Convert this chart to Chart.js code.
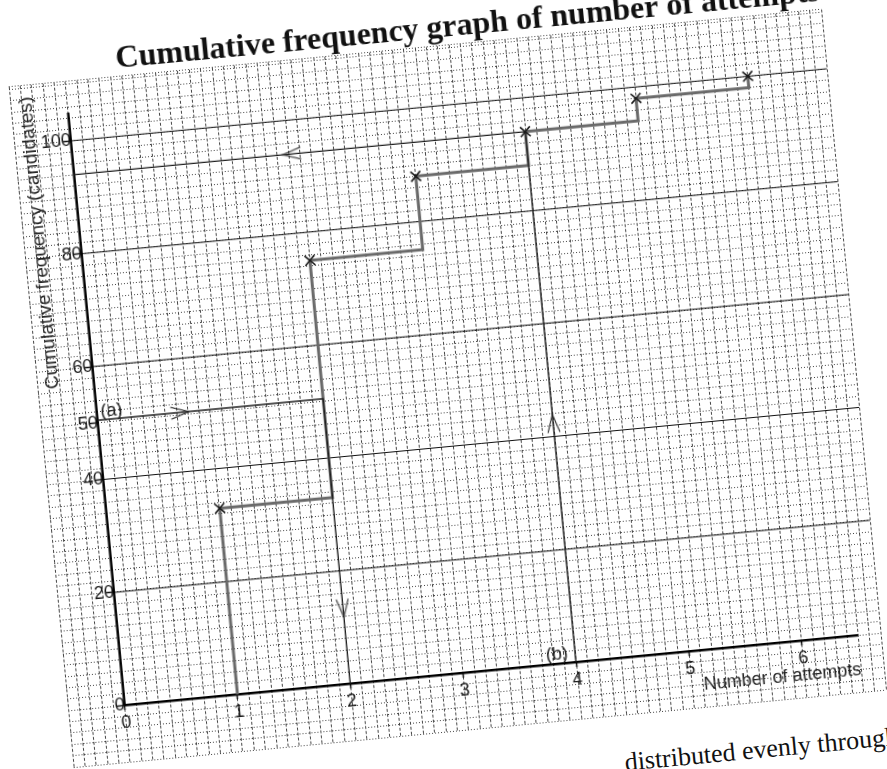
<!DOCTYPE html>
<html>
<head>
<meta charset="utf-8">
<title>Cumulative frequency graph of number of attempts</title>
<script src="https://cdn.jsdelivr.net/npm/chart.js"></script>
<style>
  html, body { margin: 0; padding: 0; background: #fff; }
  body { width: 887px; height: 769px; overflow: hidden; position: relative; }
  /* the scan is tilted, so the whole sheet is turned about the graph origin */
  #sheet { position: absolute; left: 58.33px; top: 30.7px; width: 836px; height: 741px;
           transform-origin: 66.67px 674.3px; transform: rotate(-5.45deg); }
  #chartOne { display: block; }
  #bookText { position: absolute; left: 559px; top: 766px; font: 26px 'Liberation Serif', serif;
              line-height: 1; white-space: nowrap; color: #111; }
</style>
</head>
<body>
<div id="sheet">
  <canvas id="chartOne" width="836" height="741"></canvas>
  <div id="bookText">distributed evenly throughout</div>
</div>
<script>
let chartOne = document.getElementById('chartOne').getContext('2d');

// values
let attempts = [1, 2, 3, 4, 5, 6];
let cumFreq = [33, 75, 88, 94, 98, 100];

let xTicks = [0, 1, 2, 3, 4, 5, 6];
let yTicks = [0, 20, 40, 50, 60, 80, 100];
let yMajorLines = [20, 40, 60, 80, 100];

// reading lines drawn for parts (a) and (b)
let readAX = [0, 2, 2];
let readAY = [50.5, 50.5, 0];
let readBX = [4, 4, 0];
let readBY = [0, 94, 94];

// arrow heads on the reading lines (turn in degrees, 0 = pointing right)
let arrowX = [0.73, 2, 4, 1.93];
let arrowY = [50.5, 13.4, 42.3, 94];
let arrowTurn = [0, 90, -90, 180];

let titleText = 'Cumulative frequency graph of number of attempts';
let xTitle = 'Number of attempts';
let yTitle = 'Cumulative frequency (candidates)';

// extent of the graph paper and of the drawn axes
let xMin = -0.5, xMax = 6.7, yMin = -10, yMax = 110.5;
let xAxisEnd = 6.5, yAxisEnd = 105;

function pts(xs, ys) {
    return xs.map((x, i) => ({ x: x, y: ys[i] }));
}

function gridTicks(lo, hi, step) {
    let ticks = [];
    for (let i = Math.ceil(lo / step - 1e-9); i * step <= hi + 1e-9; i++) {
        ticks.push({ value: i * step });
    }
    if (ticks[0].value > lo + 1e-9) ticks.unshift({ value: lo });
    if (ticks[ticks.length - 1].value < hi - 1e-9) ticks.push({ value: hi });
    return ticks;
}

// axes sit inside the paper, so their labels must not shrink the plot area
function noMargins(s) {
    s.paddingLeft = 0;
    s.paddingRight = 0;
    s.paddingTop = 0;
    s.paddingBottom = 0;
}

// open chevron used for the arrow heads
function chevron() {
    let c = document.createElement('canvas');
    c.width = 20;
    c.height = 14;
    let g = c.getContext('2d');
    g.strokeStyle = '#222';
    g.lineWidth = 1.3;
    g.beginPath();
    g.moveTo(1, 1);
    g.lineTo(19, 7);
    g.lineTo(1, 13);
    g.stroke();
    return c;
}

// axis titles and part labels sit on the paper, so draw them here
const sheetText = {
    id: 'sheetText',
    afterDatasetsDraw(chart) {
        const { ctx, scales: { x, y } } = chart;
        const x0 = x.getPixelForValue(0);
        const y0 = y.getPixelForValue(0);
        ctx.save();
        ctx.fillStyle = '#222';
        ctx.textBaseline = 'middle';

        ctx.font = '19px "Liberation Sans"';
        ctx.textAlign = 'center';
        ctx.save();
        ctx.translate(x0 - 41, y.getPixelForValue(82.6));
        ctx.rotate(-Math.PI / 2);
        ctx.fillText(yTitle, 0, 0);
        ctx.restore();

        ctx.font = '18px "Liberation Sans"';
        ctx.textAlign = 'right';
        ctx.fillText(xTitle, x.getPixelForValue(xAxisEnd), y0 + 35);

        ctx.textAlign = 'center';
        ctx.fillText('(a)', x.getPixelForValue(0.13), y.getPixelForValue(51.9));
        ctx.fillText('(b)', x.getPixelForValue(3.84), y.getPixelForValue(1.7));
        ctx.restore();
    }
};

let lineStyle = { pointRadius: 0, fill: false, tension: 0 };

let majorSets = yMajorLines.map(v => Object.assign({
    data: pts([0, xMax], [v, v]),
    borderColor: '#111',
    borderWidth: 1,
    order: 6
}, lineStyle));

let studentsChart1 = new Chart(chartOne, {
    type: 'line',
    data: {
        datasets: [
            {
                data: pts(attempts, cumFreq),
                showLine: false,
                pointStyle: 'crossRot',
                pointRadius: 7,
                borderColor: '#1a1a1a',
                borderWidth: 1.6,
                order: 0
            },
            {
                data: pts(arrowX, arrowY),
                showLine: false,
                pointStyle: chevron(),
                rotation: ctx => arrowTurn[ctx.dataIndex],
                order: 1
            },
            Object.assign({ data: pts(readAX, readAY), borderColor: '#1e1e1e', borderWidth: 1.4, order: 2 }, lineStyle),
            Object.assign({ data: pts(readBX, readBY), borderColor: '#1e1e1e', borderWidth: 1.4, order: 2 }, lineStyle),
            Object.assign({
                data: [{ x: attempts[0], y: 0 }].concat(pts(attempts, cumFreq)),
                stepped: 'before',
                borderColor: '#6a6a6a',
                borderWidth: 3,
                order: 3
            }, lineStyle),
            Object.assign({ data: pts([0, xAxisEnd], [0, 0]), borderColor: '#000', borderWidth: 2.5, order: 4 }, lineStyle),
            Object.assign({ data: pts([0, 0], [0, yAxisEnd]), borderColor: '#000', borderWidth: 2.5, order: 4 }, lineStyle)
        ].concat(majorSets)
    },
    options: {
        responsive: false,
        animation: false,
        events: [],
        layout: { padding: { left: 10, right: 10, top: 0, bottom: 10 } },
        plugins: {
            legend: { display: false },
            tooltip: { enabled: false },
            title: {
                display: true,
                text: titleText,
                align: 'end',
                color: '#111',
                font: { family: "'Liberation Serif', serif", size: 32, weight: 'bold', lineHeight: 1 },
                padding: { top: 14.8, bottom: 1 }
            }
        },
        scales: {
            xg: {
                type: 'linear', position: { y: 0 }, min: xMin, max: xMax,
                afterBuildTicks: s => { s.ticks = gridTicks(xMin, xMax, 0.1); },
                afterFit: noMargins,
                ticks: { display: false },
                grid: { color: '#444', lineWidth: 1, drawTicks: false },
                border: { display: false, dash: [3, 2] }
            },
            yg: {
                type: 'linear', position: { x: 0 }, min: yMin, max: yMax,
                afterBuildTicks: s => { s.ticks = gridTicks(yMin, yMax, 2); },
                afterFit: noMargins,
                ticks: { display: false },
                grid: { color: '#444', lineWidth: 1, drawTicks: false },
                border: { display: false, dash: [1, 2] }
            },
            x: {
                type: 'linear', position: { y: 0 }, min: xMin, max: xMax,
                afterBuildTicks: s => { s.ticks = xTicks.map(v => ({ value: v })); },
                afterFit: noMargins,
                ticks: { autoSkip: false, padding: 2, color: '#1a1a1a', font: { size: 18 } },
                grid: { drawOnChartArea: false, tickLength: 5, tickColor: '#111', tickWidth: 1.5 },
                border: { display: false }
            },
            y: {
                type: 'linear', position: { x: 0 }, min: yMin, max: yMax,
                afterBuildTicks: s => { s.ticks = yTicks.map(v => ({ value: v })); },
                afterFit: noMargins,
                ticks: { autoSkip: false, padding: 4, color: '#1a1a1a', font: { size: 18 } },
                grid: { drawOnChartArea: false, tickLength: 9, tickColor: '#111', tickWidth: 1.5 },
                border: { display: false }
            }
        }
    },
    plugins: [sheetText]
});
</script>
</body>
</html>
